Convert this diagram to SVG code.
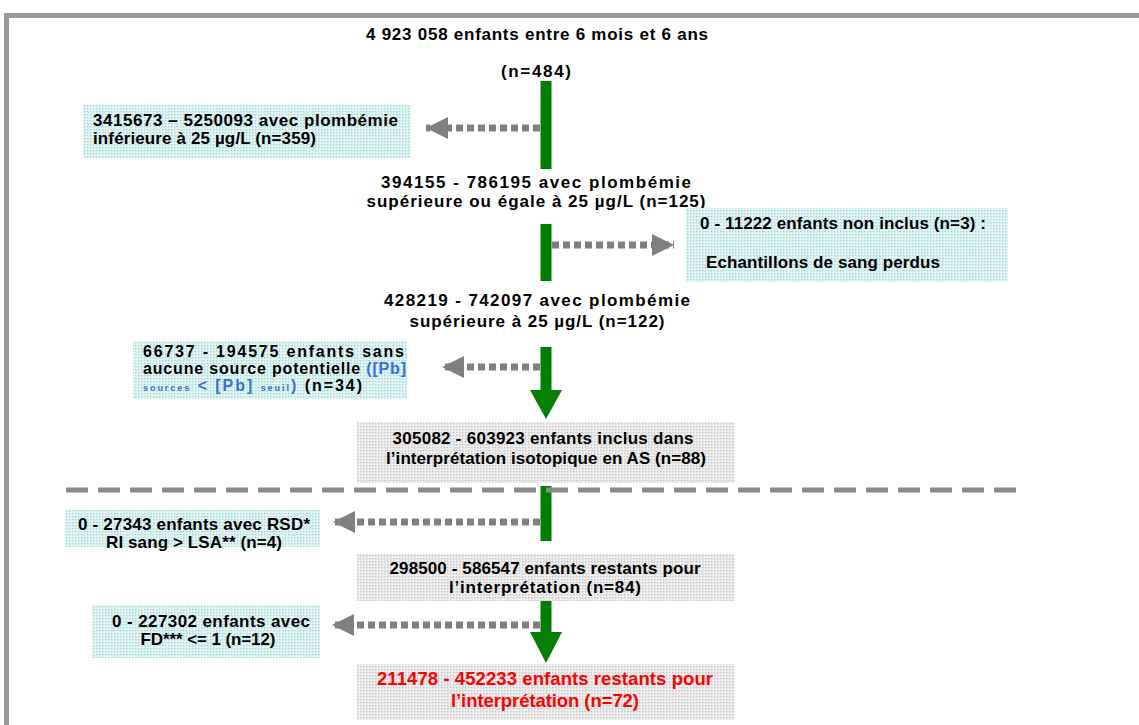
<svg xmlns="http://www.w3.org/2000/svg" width="1139" height="725" viewBox="0 0 1139 725">
<style>
text{font-family:"Liberation Sans",Arial,sans-serif;font-weight:bold;font-size:17px;fill:#000}
.c{text-anchor:middle}
.s{font-size:16px}
.red{fill:#ff0000;font-size:18.5px}
.blue{fill:#3a6fd8}
.green{stroke:#008000;stroke-width:11;fill:none}
.dot{stroke:#808080;stroke-width:7;stroke-dasharray:7 4;fill:none}
.dash{stroke:#8c8c8c;stroke-width:5;stroke-dasharray:22 10;fill:none}
</style>
<defs>
<pattern id="cy" width="3" height="3" patternUnits="userSpaceOnUse">
<rect width="3" height="3" fill="#d6f0f0"/>
<rect width="1" height="1" fill="#9ed6d6"/>
<rect x="2" y="2" width="1" height="1" fill="#ffffff"/>
</pattern>
<pattern id="gy" width="3" height="3" patternUnits="userSpaceOnUse">
<rect width="3" height="3" fill="#e6e6e6"/>
<rect width="1" height="1" fill="#c4c4c4"/>
<rect x="2" y="2" width="1" height="1" fill="#ffffff"/>
</pattern>
<marker id="ga" markerWidth="22" markerHeight="22" viewBox="0 0 22 22" refX="22" refY="11" orient="auto" markerUnits="userSpaceOnUse">
<path d="M0,0 L22,11 L0,22 Z" fill="#808080"/>
</marker>
</defs>

<path d="M6.5,725 V15.5 H1139" fill="none" stroke="#999999" stroke-width="5"/>

<g id="connectors">
<line class="green" x1="546" y1="81" x2="546" y2="169"/>
<line class="green" x1="546" y1="224" x2="546" y2="281"/>
<line class="green" x1="546" y1="347" x2="546" y2="392"/>
<path d="M530,390 L562,390 L546,419 Z" fill="#008000"/>
<line class="green" x1="546" y1="486" x2="546" y2="541"/>
<line class="green" x1="546" y1="600" x2="546" y2="634"/>
<path d="M530,632 L562,632 L546,663 Z" fill="#008000"/>
<line class="dot" x1="540" y1="128" x2="426" y2="128" marker-end="url(#ga)"/>
<line class="dot" x1="552" y1="245" x2="674" y2="245" marker-end="url(#ga)"/>
<line class="dot" x1="540" y1="367" x2="442" y2="367" marker-end="url(#ga)"/>
<line class="dot" x1="540" y1="522" x2="333" y2="522" marker-end="url(#ga)"/>
<line class="dot" x1="540" y1="625" x2="332" y2="625" marker-end="url(#ga)"/>
<line class="dash" x1="66" y1="490" x2="1022" y2="490"/>
</g>

<g id="n0">
<text class="c" x="537" y="40" textLength="342" lengthAdjust="spacing">4 923 058 enfants entre 6 mois et 6 ans</text>
<text class="c" x="536" y="77" textLength="70" lengthAdjust="spacing">(n=484)</text>
</g>

<g id="n1">
<rect x="83" y="105" width="328" height="53" fill="url(#cy)"/>
<text x="93" y="126" textLength="305" lengthAdjust="spacing">3415673 – 5250093 avec plombémie</text>
<text x="93" y="144" textLength="223" lengthAdjust="spacing">inférieure à 25 µg/L (n=359)</text>
</g>

<g id="n2">
<text class="c" x="536" y="188" textLength="310" lengthAdjust="spacing">394155 - 786195 avec plombémie</text>
<text class="c" x="536" y="207" textLength="339" lengthAdjust="spacing">supérieure ou égale à 25 µg/L (n=125)</text>
</g>

<g id="n3">
<rect x="686" y="208" width="322" height="74" fill="url(#cy)"/>
<text x="700" y="229" textLength="286" lengthAdjust="spacing">0 - 11222 enfants non inclus (n=3) :</text>
<text x="706" y="268" textLength="234" lengthAdjust="spacing">Echantillons de sang perdus</text>
</g>

<g id="n4">
<text class="c" x="537" y="306" textLength="306" lengthAdjust="spacing">428219 - 742097 avec plombémie</text>
<text class="c" x="537" y="327" textLength="255" lengthAdjust="spacing">supérieure à 25 µg/L (n=122)</text>
</g>

<g id="n5">
<rect x="133" y="341" width="274" height="58" fill="url(#cy)"/>
<text class="s" x="143" y="357" textLength="261" lengthAdjust="spacing">66737 - 194575 enfants sans</text>
<text class="s" x="143" y="374" textLength="263" lengthAdjust="spacing">aucune source potentielle <tspan class="blue">([Pb]</tspan></text>
<text class="s" x="143" y="391" textLength="219" lengthAdjust="spacing"><tspan class="blue" font-size="9">sources</tspan><tspan class="blue"> &lt; [Pb] </tspan><tspan class="blue" font-size="9">seuil</tspan><tspan class="blue">)</tspan> (n=34)</text>
</g>

<g id="n6">
<rect x="357" y="422" width="378" height="61" fill="url(#gy)"/>
<text class="c" x="543" y="444" textLength="301" lengthAdjust="spacing">305082 - 603923 enfants inclus dans</text>
<text class="c" x="546" y="464" textLength="320" lengthAdjust="spacing">l’interprétation isotopique en AS (n=88)</text>
</g>

<g id="n7">
<rect x="65" y="510" width="255" height="37" fill="url(#cy)"/>
<text class="c" x="194" y="530" textLength="232" lengthAdjust="spacing">0 - 27343 enfants avec RSD*</text>
<text class="c" x="194" y="548" textLength="176" lengthAdjust="spacing">RI sang &gt; LSA** (n=4)</text>
</g>

<g id="n8">
<rect x="357" y="554" width="378" height="47" fill="url(#gy)"/>
<text class="c" x="545" y="574" textLength="311" lengthAdjust="spacing">298500 - 586547 enfants restants pour</text>
<text class="c" x="545" y="593" textLength="192" lengthAdjust="spacing">l’interprétation (n=84)</text>
</g>

<g id="n9">
<rect x="92" y="605" width="228" height="53" fill="url(#cy)"/>
<text class="c" x="211" y="627" textLength="198" lengthAdjust="spacing">0 - 227302 enfants avec</text>
<text class="c" x="208" y="645" textLength="135" lengthAdjust="spacing">FD*** &lt;= 1 (n=12)</text>
</g>

<g id="n10">
<rect x="357" y="664" width="378" height="56" fill="url(#gy)"/>
<text class="c red" x="545" y="685" textLength="336" lengthAdjust="spacing">211478 - 452233 enfants restants pour</text>
<text class="c red" x="545" y="707" textLength="188" lengthAdjust="spacing">l’interprétation (n=72)</text>
</g>
</svg>
